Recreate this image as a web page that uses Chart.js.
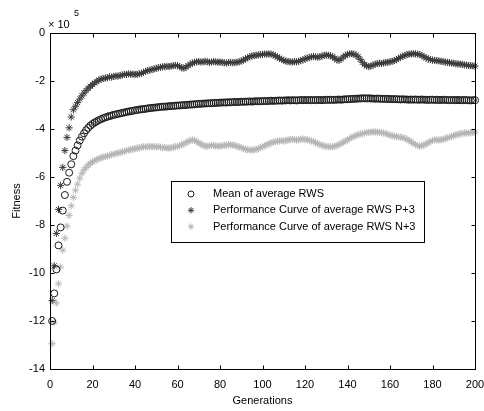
<!DOCTYPE html>
<html>
<head>
<meta charset="utf-8">
<script src="https://cdn.jsdelivr.net/npm/chart.js@4/dist/chart.umd.min.js"></script>
<style>
  html, body { margin: 0; padding: 0; background: #fff; }
  #chart { display: block; }
</style>
</head>
<body>
<canvas id="chart" width="484" height="411"></canvas>
<script>
//////////////////////
// Data (fitness in units of 10^5, generations 1..200)
//////////////////////
const seriesNames = [
    "Mean of average RWS",
    "Performance Curve of average RWS P+3",
    "Performance Curve of average RWS N+3"
];

const meanRws = [
    -12.0, -10.85, -9.85, -8.85, -8.1, -7.4, -6.75, -6.2, -5.82, -5.47, -5.13, -4.9, -4.68, -4.48, -4.32, -4.18, -4.05, -3.95, -3.86, -3.79,
    -3.73, -3.68, -3.63, -3.59, -3.55, -3.52, -3.49, -3.46, -3.44, -3.41, -3.39, -3.37, -3.35, -3.33, -3.31, -3.29, -3.27, -3.26, -3.24, -3.22,
    -3.21, -3.19, -3.18, -3.17, -3.16, -3.14, -3.13, -3.12, -3.11, -3.10, -3.09, -3.08, -3.07, -3.07, -3.06, -3.05, -3.04, -3.04, -3.03, -3.02,
    -3.02, -3.01, -3.00, -3.00, -2.99, -2.98, -2.98, -2.97, -2.96, -2.95, -2.95, -2.94, -2.94, -2.93, -2.93, -2.92, -2.92, -2.91, -2.91, -2.90,
    -2.90, -2.89, -2.90, -2.88, -2.89, -2.88, -2.87, -2.88, -2.87, -2.86, -2.87, -2.86, -2.86, -2.85, -2.86, -2.85, -2.84, -2.85, -2.84, -2.84,
    -2.83, -2.84, -2.83, -2.82, -2.83, -2.82, -2.82, -2.81, -2.82, -2.81, -2.81, -2.80, -2.81, -2.80, -2.80, -2.81, -2.80, -2.79, -2.80, -2.79,
    -2.80, -2.79, -2.80, -2.79, -2.80, -2.79, -2.79, -2.80, -2.79, -2.78, -2.79, -2.78, -2.79, -2.78, -2.78, -2.77, -2.78, -2.77, -2.76, -2.76,
    -2.75, -2.75, -2.74, -2.74, -2.73, -2.73, -2.72, -2.72, -2.73, -2.72, -2.73, -2.73, -2.74, -2.73, -2.74, -2.74, -2.75, -2.74, -2.75, -2.75,
    -2.76, -2.75, -2.76, -2.76, -2.77, -2.76, -2.77, -2.77, -2.78, -2.77, -2.78, -2.77, -2.78, -2.78, -2.77, -2.78, -2.78, -2.79, -2.78, -2.78,
    -2.79, -2.78, -2.79, -2.79, -2.78, -2.79, -2.79, -2.80, -2.79, -2.79, -2.80, -2.79, -2.80, -2.80, -2.79, -2.80, -2.80, -2.81, -2.80, -2.80
];

const rwsP3 = [
    -11.15, -9.7, -8.35, -7.35, -6.35, -5.6, -4.9, -4.35, -3.95, -3.5, -3.2, -3.05, -2.9, -2.75, -2.62, -2.5, -2.4, -2.3, -2.22, -2.15,
    -2.08, -2.02, -1.96, -1.92, -1.90, -1.88, -1.86, -1.83, -1.84, -1.81, -1.79, -1.80, -1.77, -1.75, -1.72, -1.73, -1.70, -1.72, -1.71, -1.73,
    -1.72, -1.70, -1.68, -1.64, -1.60, -1.57, -1.55, -1.52, -1.50, -1.47, -1.45, -1.43, -1.41, -1.40, -1.39, -1.40, -1.38, -1.36, -1.35, -1.36,
    -1.40, -1.45, -1.47, -1.42, -1.36, -1.30, -1.25, -1.22, -1.20, -1.19, -1.21, -1.20, -1.18, -1.20, -1.22, -1.21, -1.19, -1.20, -1.22, -1.21,
    -1.22, -1.24, -1.25, -1.23, -1.22, -1.24, -1.23, -1.22, -1.20, -1.17, -1.13, -1.08, -1.03, -0.99, -0.96, -0.94, -0.93, -0.91, -0.90, -0.89,
    -0.88, -0.88, -0.87, -0.88, -0.91, -0.95, -1.00, -1.05, -1.10, -1.14, -1.17, -1.19, -1.20, -1.21, -1.19, -1.20, -1.18, -1.15, -1.12, -1.08,
    -1.05, -1.02, -0.99, -0.98, -0.99, -1.01, -0.99, -0.96, -0.93, -0.92, -0.93, -0.95, -0.99, -1.05, -1.12, -1.14, -1.08, -1.00, -0.93, -0.89,
    -0.87, -0.86, -0.88, -0.92, -0.99, -1.10, -1.22, -1.32, -1.37, -1.40, -1.38, -1.34, -1.30, -1.28, -1.26, -1.27, -1.25, -1.23, -1.22, -1.20,
    -1.18, -1.15, -1.11, -1.06, -1.01, -0.97, -0.93, -0.90, -0.88, -0.87, -0.86, -0.87, -0.88, -0.90, -0.94, -0.99, -1.04, -1.08, -1.11, -1.13,
    -1.14, -1.15, -1.16, -1.18, -1.19, -1.21, -1.22, -1.24, -1.25, -1.26, -1.28, -1.29, -1.30, -1.31, -1.33, -1.34, -1.35, -1.36, -1.37, -1.38
];

const rwsN3 = [
    -12.95, -12.05, -11.25, -10.45, -9.75, -9.05, -8.55, -8.05, -7.6, -7.2, -6.85, -6.55, -6.3, -6.05, -5.85, -5.7, -5.6, -5.5, -5.43, -5.37,
    -5.32, -5.28, -5.24, -5.20, -5.17, -5.15, -5.12, -5.10, -5.07, -5.05, -5.02, -5.00, -4.98, -4.95, -4.93, -4.90, -4.88, -4.86, -4.84, -4.82,
    -4.80, -4.78, -4.76, -4.74, -4.75, -4.73, -4.74, -4.72, -4.74, -4.75, -4.73, -4.76, -4.78, -4.77, -4.79, -4.80, -4.78, -4.76, -4.74, -4.72,
    -4.70, -4.66, -4.62, -4.57, -4.52, -4.48, -4.46, -4.47, -4.52, -4.58, -4.63, -4.68, -4.71, -4.72, -4.70, -4.68, -4.69, -4.71, -4.72, -4.71,
    -4.70, -4.68, -4.67, -4.66, -4.65, -4.67, -4.69, -4.72, -4.75, -4.78, -4.81, -4.84, -4.86, -4.87, -4.88, -4.87, -4.85, -4.82, -4.78, -4.74,
    -4.70, -4.66, -4.62, -4.58, -4.55, -4.53, -4.51, -4.50, -4.49, -4.50, -4.48, -4.46, -4.44, -4.43, -4.44, -4.46, -4.45, -4.43, -4.42, -4.44,
    -4.45, -4.47, -4.50, -4.53, -4.57, -4.61, -4.65, -4.68, -4.71, -4.73, -4.74, -4.75, -4.74, -4.72, -4.69, -4.65, -4.60, -4.55, -4.50, -4.45,
    -4.40, -4.35, -4.31, -4.27, -4.24, -4.21, -4.19, -4.17, -4.15, -4.14, -4.13, -4.12, -4.12, -4.13, -4.14, -4.15, -4.17, -4.19, -4.22, -4.25,
    -4.28, -4.30, -4.32, -4.33, -4.34, -4.36, -4.39, -4.43, -4.48, -4.54, -4.60, -4.65, -4.69, -4.71, -4.70, -4.67, -4.62, -4.57, -4.52, -4.48,
    -4.46, -4.45, -4.46, -4.45, -4.43, -4.40, -4.37, -4.34, -4.31, -4.28, -4.25, -4.22, -4.20, -4.18, -4.17, -4.16, -4.17, -4.15, -4.14, -4.13
];

const xTicks = [0, 20, 40, 60, 80, 100, 120, 140, 160, 180, 200];
const yTicks = [-14, -12, -10, -8, -6, -4, -2, 0];

//////////////////////
// Styles
//////////////////////
const FONT = "'Liberation Sans', Arial, sans-serif";
const markerStyles = [
    { pointStyle: "circle", radius: 3.5, color: "#1a1a1a" },
    { pointStyle: "star", radius: 3.6, color: "#3a3a3a" },
    { pointStyle: "star", radius: 3.6, color: "#b5b5b5" }
];

function toPoints(values) {
    return values.map((v, i) => ({ x: i + 1, y: v }));
}

//////////////////////
// Plugin: box, inward ticks, axis titles, exponent, legend
//////////////////////
const decorPlugin = {
    id: "decor",
    afterDraw(chart) {
        const ctx = chart.ctx;
        const a = chart.chartArea;
        const xs = chart.scales.x;
        const ys = chart.scales.y;
        const L = Math.round(a.left) + 0.5, R = Math.round(a.right) + 0.5;
        const T = Math.round(a.top) + 0.5, B = Math.round(a.bottom) + 0.5;

        ctx.save();
        ctx.strokeStyle = "#000";
        ctx.lineWidth = 1;
        ctx.strokeRect(L, T, R - L, B - T);

        // inward tick marks on all four sides
        ctx.beginPath();
        xTicks.forEach(v => {
            const px = Math.round(xs.getPixelForValue(v)) + 0.5;
            ctx.moveTo(px, B); ctx.lineTo(px, B - 4);
            ctx.moveTo(px, T); ctx.lineTo(px, T + 4);
        });
        yTicks.forEach(v => {
            const py = Math.round(ys.getPixelForValue(v)) + 0.5;
            ctx.moveTo(L, py); ctx.lineTo(L + 4, py);
            ctx.moveTo(R, py); ctx.lineTo(R - 4, py);
        });
        ctx.stroke();

        // axis titles
        ctx.fillStyle = "#000";
        ctx.font = "11px " + FONT;
        ctx.textAlign = "center";
        ctx.textBaseline = "middle";
        ctx.fillText("Generations", (a.left + a.right) / 2, 401);
        ctx.save();
        ctx.translate(17, (a.top + a.bottom) / 2);
        ctx.rotate(-Math.PI / 2);
        ctx.fillText("Fitness", 0, 0);
        ctx.restore();

        // exponent label
        ctx.textAlign = "left";
        ctx.fillText("\u00d7 10", 48, 25);
        ctx.font = "9px " + FONT;
        ctx.fillText("5", 74, 14);

        // legend
        const box = { x: 171.5, y: 181.5, w: 253, h: 61 };
        ctx.fillStyle = "#fff";
        ctx.fillRect(box.x, box.y, box.w, box.h);
        ctx.strokeRect(box.x, box.y, box.w, box.h);
        ctx.font = "11px " + FONT;
        seriesNames.forEach((name, i) => {
            const ry = 194 + i * 16.3;
            const m = markerStyles[i];
            ctx.strokeStyle = m.color;
            ctx.fillStyle = "rgba(0,0,0,0)";
            Chart.helpers.drawPoint(ctx, {
                pointStyle: m.pointStyle, radius: m.radius - 0.5, rotation: 0, borderWidth: 1
            }, 191, ry);
            ctx.fillStyle = "#000";
            ctx.fillText(name, 213, ry);
        });
        ctx.restore();
    }
};

//////////////////////
// Build chart
//////////////////////
const ctx = document.getElementById("chart").getContext("2d");

new Chart(ctx, {
    type: "scatter",
    data: {
        datasets: [meanRws, rwsP3, rwsN3].map((vals, i) => ({
            label: seriesNames[i],
            data: toPoints(vals),
            showLine: false,
            pointStyle: markerStyles[i].pointStyle,
            pointRadius: markerStyles[i].radius,
            pointBorderWidth: 1,
            pointBorderColor: markerStyles[i].color,
            pointBackgroundColor: "rgba(0,0,0,0)",
            clip: false
        }))
    },
    options: {
        responsive: false,
        animation: false,
        devicePixelRatio: 1,
        layout: { padding: { top: 33, right: 9, left: 0, bottom: 0 } },
        plugins: {
            legend: { display: false },
            tooltip: { enabled: false }
        },
        scales: {
            x: {
                type: "linear",
                min: 0,
                max: 200,
                afterBuildTicks: s => { s.ticks = xTicks.map(v => ({ value: v })); },
                afterFit: s => { s.height = 42; s.paddingLeft = 0; s.paddingRight = 0; },
                grid: { display: false, drawTicks: false },
                border: { display: false },
                ticks: { color: "#000", padding: 9, maxRotation: 0, font: { family: FONT, size: 11 } }
            },
            y: {
                type: "linear",
                min: -14,
                max: 0,
                afterBuildTicks: s => { s.ticks = yTicks.map(v => ({ value: v })); },
                afterFit: s => { s.width = 50; s.paddingTop = 0; s.paddingBottom = 0; },
                grid: { display: false, drawTicks: false },
                border: { display: false },
                ticks: { color: "#000", padding: 5, font: { family: FONT, size: 11 } }
            }
        }
    },
    plugins: [decorPlugin]
});
</script>
</body>
</html>
